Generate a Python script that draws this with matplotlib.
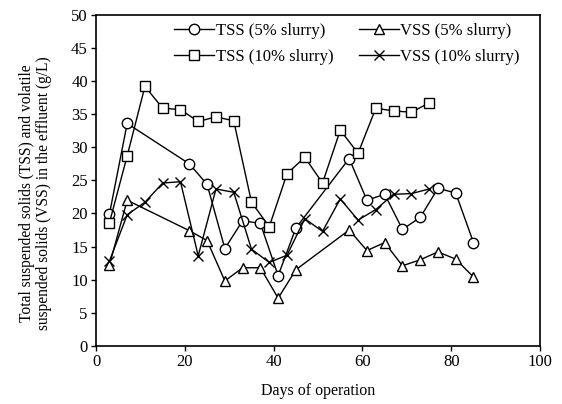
import matplotlib
matplotlib.use('Agg')
import matplotlib.pyplot as plt

plt.rcParams['font.family'] = ['Liberation Serif', 'DejaVu Serif']

# TSS / VSS, 5% slurry
天5 = [3, 7, 21, 25, 29, 33, 37, 41, 45, 57, 61, 65, 69, 73, 77, 81, 85]
tss5 = [19.9, 33.6, 27.5, 24.4, 14.7, 18.9, 18.5, 10.6, 17.8, 28.3, 22.0, 22.9, 17.6, 19.4, 23.8, 23.1, 15.6]
vss5 = [12.2, 22.0, 17.4, 15.9, 9.8, 11.8, 11.8, 7.2, 11.5, 17.5, 14.4, 15.6, 12.1, 13.0, 14.2, 13.1, 10.4]

# TSS / VSS, 10% slurry
天10 = [3, 7, 11, 15, 19, 23, 27, 31, 35, 39, 43, 47, 51, 55, 59, 63, 67, 71, 75]
tss10 = [18.6, 28.7, 39.2, 35.9, 35.7, 33.9, 34.6, 34.0, 21.7, 18.0, 26.0, 28.5, 24.6, 32.6, 29.1, 35.9, 35.5, 35.3, 36.7]
vss10 = [12.8, 19.8, 21.7, 24.6, 24.8, 13.6, 23.7, 23.2, 14.6, 12.6, 13.7, 19.2, 17.3, 22.2, 19.0, 20.6, 22.9, 23.0, 23.7]

fig = plt.figure(figsize=(5.62, 4.04), dpi=100)
ax = fig.add_axes([0.171, 0.144, 0.790, 0.819])

样式 = dict(color='black', lw=1.0, mfc='white', mec='black', mew=1.0, ms=7.5)
ax.plot(天5, tss5, marker='o', label='TSS (5% slurry)', **样式)
ax.plot(天10, tss10, marker='s', label='TSS (10% slurry)', **样式)
ax.plot(天5, vss5, marker='^', label='VSS (5% slurry)', **样式)
ax.plot(天10, vss10, marker='x', label='VSS (10% slurry)', **样式)

ax.set_xlim(0, 100)
ax.set_ylim(0, 50)
ax.set_xticks(range(0, 101, 20))
ax.set_yticks(range(0, 51, 5))
ax.tick_params(direction='out', labelsize=12, length=3.5, width=1, pad=2.5)
for s in ax.spines.values():
    s.set_linewidth(1.2)

ax.set_xlabel('Days of operation', fontsize=11.5, labelpad=9)
ax.set_ylabel('Total suspended solids (TSS) and volatile\nsuspended solids (VSS) in the effluent (g/L)',
              fontsize=11.2, linespacing=1.05)
ax.yaxis.set_label_coords(-0.10, 0.46)

ax.legend(ncol=2, loc='upper right', bbox_to_anchor=(0.962, 0.987), frameon=False, fontsize=12,
          handlelength=2.4, columnspacing=1.5, handletextpad=0.1,
          borderaxespad=0, labelspacing=0.6, borderpad=0.2)

fig.savefig('out.png', dpi=100)
